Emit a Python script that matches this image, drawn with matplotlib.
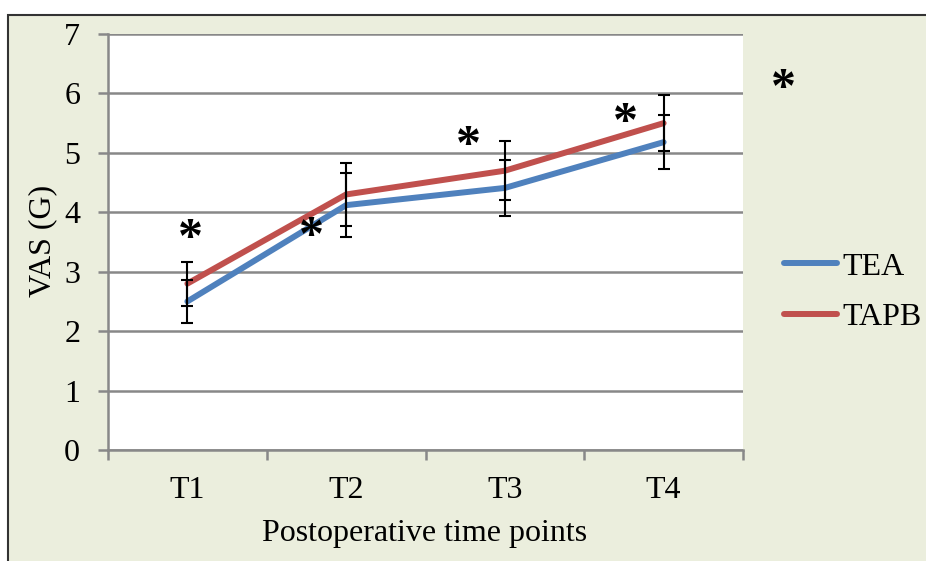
import numpy as np
import matplotlib.pyplot as plt
from matplotlib.lines import Line2D

# VAS scores at the four postoperative time points
timepoints = ['T1', 'T2', 'T3', 'T4']
tea_mean = [2.50, 4.12, 4.41, 5.18]
tea_err = [0.36, 0.54, 0.47, 0.45]
tapb_mean = [2.80, 4.30, 4.70, 5.50]
tapb_err = [0.37, 0.53, 0.50, 0.47]

# significance marks (x in category units, y in VAS units)
star_x = [0.02, 0.78, 1.77, 2.76]
star_y = [3.53, 3.57, 5.10, 5.49]

plt.rcParams['font.family'] = 'Liberation Serif'
bg = '#ebeedd'
axcol = '#888888'
fs = 23

fig = plt.figure(figsize=(9.26, 5.61), dpi=100)
fig.patch.set_facecolor('white')

# outer frame of the chart area
frame = plt.Rectangle((8 / 926, -0.05), 1.0, (561 - 15) / 561 + 0.05,
                      transform=fig.transFigure, facecolor=bg,
                      edgecolor='#333333', linewidth=1.5, zorder=-1)
fig.patches.append(frame)

ax = fig.add_axes([108 / 926, (561 - 450) / 561, (743 - 108) / 926, (450 - 34) / 561])
ax.set_zorder(2)
ax.set_facecolor('white')

x = np.arange(len(timepoints))
ax.plot(x, tea_mean, color='#4f81bd', lw=4.3, solid_capstyle='round', zorder=3)
ax.plot(x, tapb_mean, color='#c0504d', lw=4.3, solid_capstyle='round', zorder=3)
ax.errorbar(x, tea_mean, yerr=tea_err, fmt='none', ecolor='black', elinewidth=1.5,
            capsize=4.6, capthick=1.5, zorder=4)
ax.errorbar(x, tapb_mean, yerr=tapb_err, fmt='none', ecolor='black', elinewidth=1.5,
            capsize=4.6, capthick=1.5, zorder=4)

for sx, sy in zip(star_x, star_y):
    ax.text(sx, sy, '*', fontsize=36, fontweight='bold', ha='center', va='center', zorder=5)

ax.set_xlim(-0.5, 3.5)
ax.set_ylim(0, 7)
ax.set_yticks(range(0, 8))
ax.yaxis.grid(True, color=axcol, lw=1.8)
ax.set_axisbelow(True)
ax.set_xticks(x)
ax.set_xticklabels(timepoints)
ax.set_xticks(np.arange(-0.5, 4.0, 1.0), minor=True)
ax.tick_params(axis='x', which='major', length=0, pad=19, labelsize=fs)
ax.tick_params(axis='x', which='minor', length=7, width=1.8, color=axcol, direction='out')
ax.tick_params(axis='y', length=7, width=1.8, color=axcol, pad=13, labelsize=fs)

for side in ['top', 'right']:
    ax.spines[side].set_visible(False)
for side in ['left', 'bottom']:
    ax.spines[side].set_color(axcol)
    ax.spines[side].set_linewidth(1.8)

fig.text(425 / 926, 1 - 533 / 561, 'Postoperative time points', fontsize=fs,
         ha='center', va='center')
fig.text(43 / 926, 1 - 241 / 561, 'VAS (G)', fontsize=fs, rotation=90,
         ha='center', va='center')
fig.text(783 / 926, 1 - 90 / 561, '*', fontsize=36, fontweight='bold',
         ha='center', va='center')

handles = [Line2D([], [], color='#4f81bd', lw=4.3, solid_capstyle='round'),
           Line2D([], [], color='#c0504d', lw=4.3, solid_capstyle='round')]
fig.legend(handles, ['TEA', 'TAPB'], loc='center left',
           bbox_to_anchor=(784 / 926, 1 - 292 / 561), frameon=False, borderpad=0,
           borderaxespad=0, fontsize=fs, handlelength=1.65, handletextpad=0.18,
           labelspacing=0.65)

fig.savefig('out.png', dpi=100, facecolor=fig.get_facecolor())
